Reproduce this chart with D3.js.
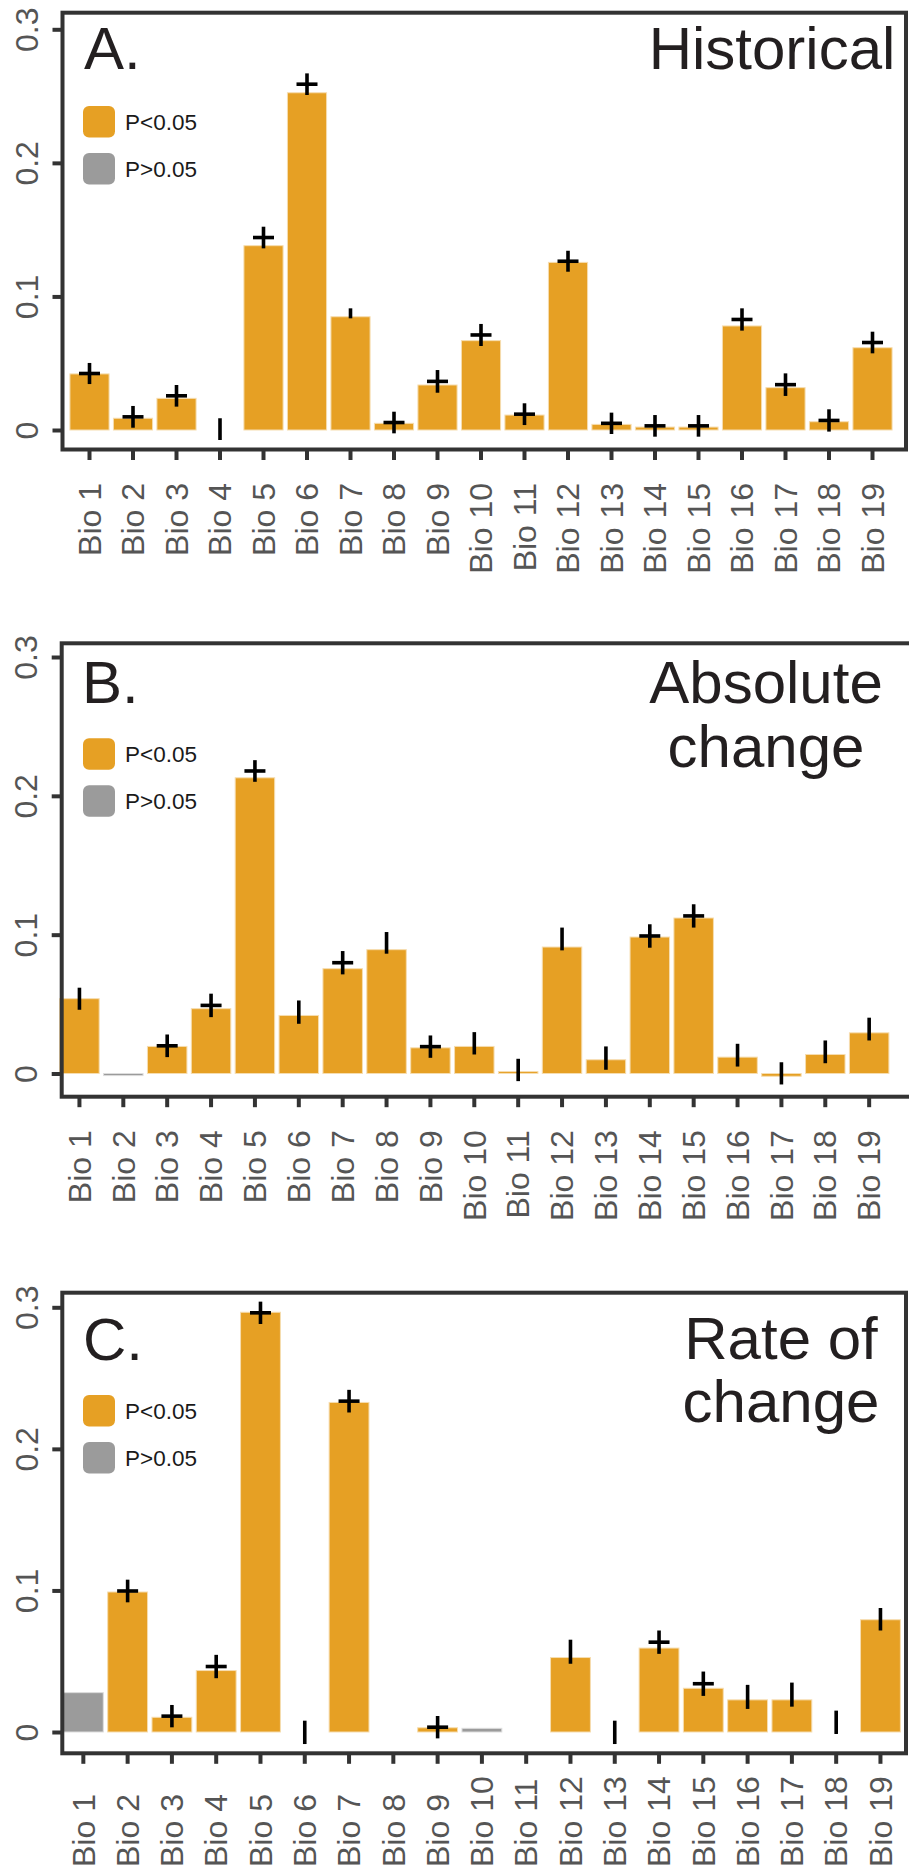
<!DOCTYPE html>
<html>
<head>
<meta charset="utf-8">
<script src="https://cdn.jsdelivr.net/npm/d3@7"></script>
<style>
  body { margin: 0; background: #fff; }
  svg { display: block; font-family: 'Liberation Sans', Arial, Helvetica, sans-serif; }
</style>
</head>
<body>
<div id="chart"></div>
<script>
// categories and ticks
const bioLabels = ['Bio 1', 'Bio 2', 'Bio 3', 'Bio 4', 'Bio 5', 'Bio 6', 'Bio 7', 'Bio 8', 'Bio 9', 'Bio 10',
    'Bio 11', 'Bio 12', 'Bio 13', 'Bio 14', 'Bio 15', 'Bio 16', 'Bio 17', 'Bio 18', 'Bio 19'];
const yTicks = [0, 0.1, 0.2, 0.3];
const yTickLabels = ['0', '0.1', '0.2', '0.3'];
const legendLabels = ['P<0.05', 'P>0.05'];

// A. Historical
const histValue = [0.042, 0.0088, 0.0237, 0, 0.138, 0.2525, 0.0848, 0.005, 0.0337, 0.0669,
    0.0112, 0.1255, 0.0042, 0.0022, 0.0022, 0.0779, 0.0317, 0.0062, 0.0616];
const histLo = [0.0344, 0.0017, 0.0175, -0.0075, 0.136, 0.2508, 0.0836, -0.0025, 0.0279, 0.0629,
    0.0037, 0.1185, -0.003, -0.005, -0.005, 0.0744, 0.0255, -0.0012, 0.0574];
const histHi = [0.0502, 0.018, 0.0337, 0.0088, 0.1522, 0.267, 0.0911, 0.0137, 0.0449, 0.0794,
    0.02, 0.1342, 0.013, 0.0112, 0.0112, 0.0911, 0.0424, 0.0155, 0.0736];
const histPlus = [1, 1, 1, 0, 1, 1, 0, 1, 1, 1, 1, 1, 1, 1, 1, 1, 1, 1, 1];
const histSig = [1, 1, 1, 1, 1, 1, 1, 1, 1, 1, 1, 1, 1, 1, 1, 1, 1, 1, 1];

// B. Absolute change
const absValue = [0.0539, -0.0015, 0.0195, 0.0467, 0.213, 0.0418, 0.0755, 0.0892, 0.0185, 0.0195,
    0.0014, 0.0911, 0.0099, 0.0983, 0.112, 0.0118, -0.002, 0.0137, 0.0293];
const absLo = [0.0459, null, 0.0118, 0.0406, 0.2101, 0.0358, 0.0714, 0.0863, 0.0113, 0.0137,
    -0.0055, 0.0887, 0.0027, 0.0906, 0.1051, 0.005, -0.0079, 0.0074, 0.0238];
const absHi = [0.0618, null, 0.0281, 0.0575, 0.2257, 0.0526, 0.0882, 0.1019, 0.0274, 0.0298,
    0.0106, 0.1051, 0.0195, 0.1075, 0.1219, 0.0214, 0.0081, 0.0238, 0.0402];
const absPlus = [0, 0, 1, 1, 1, 0, 1, 0, 1, 0, 0, 0, 0, 1, 1, 0, 0, 0, 0];
const absSig = [1, 0, 1, 1, 1, 1, 1, 1, 1, 1, 1, 1, 1, 1, 1, 1, 1, 1, 1];

// C. Rate of change
const rateValue = [0.0278, 0.0989, 0.0104, 0.0434, 0.2965, 0, 0.2328, 0, 0.003, 0.0026,
    0, 0.0526, 0, 0.0593, 0.0309, 0.0227, 0.0227, 0, 0.0793];
const rateLo = [null, 0.0916, 0.0033, 0.038, 0.2882, -0.0085, 0.2257, null, -0.0045, null,
    null, 0.0482, -0.0085, 0.0552, 0.0255, 0.0163, 0.0179, -0.0014, 0.0717];
const rateHi = [null, 0.1076, 0.0191, 0.0545, 0.304, 0.008, 0.2417, null, 0.0113, null,
    null, 0.0652, 0.008, 0.0717, 0.0427, 0.0333, 0.0349, 0.0151, 0.0876];
const ratePlus = [0, 1, 1, 1, 1, 0, 1, 0, 1, 0, 0, 0, 0, 1, 1, 0, 0, 0, 0];
const rateSig = [0, 1, 1, 1, 1, 1, 1, 1, 1, 0, 1, 1, 1, 1, 1, 1, 1, 1, 1];

const orange = '#E6A024';
const grey = '#9B9B9B';
const tickGrey = '#555555';

const panels = [
    {
        letter: 'A.', title: ['Historical'],
        value: histValue, lo: histLo, hi: histHi, plus: histPlus, sig: histSig,
        frame: {left: 62.5, top: 12.7, right: 906, bottom: 449.5},
        xRange: [67.75, 894.25], y0: 430, y3: 29.3,
        labelAnchor: 'end', labelOffset: 33.5,
        letterX: 84, letterY: 69.3, titleX: 772, titleY: 69.3, titleGap: 64,
        legendTop: 106
    },
    {
        letter: 'B.', title: ['Absolute', 'change'],
        value: absValue, lo: absLo, hi: absHi, plus: absPlus, sig: absSig,
        frame: {left: 61.7, top: 643.3, right: 916, bottom: 1096.7},
        xRange: [57.5, 891.1], y0: 1073.5, y3: 657,
        labelAnchor: 'end', labelOffset: 33.5,
        letterX: 82, letterY: 703.3, titleX: 766, titleY: 702.7, titleGap: 64,
        legendTop: 738.3
    },
    {
        letter: 'C.', title: ['Rate of', 'change'],
        value: rateValue, lo: rateLo, hi: rateHi, plus: ratePlus, sig: rateSig,
        frame: {left: 62.3, top: 1292.7, right: 906, bottom: 1753.3},
        xRange: [61.2, 902.6], y0: 1732, y3: 1307.3,
        labelAnchor: 'start', labelOffset: 113.7,
        letterX: 83, letterY: 1360, titleX: 781, titleY: 1359.3, titleGap: 62.4,
        legendTop: 1395
    }
];

const svg = d3.select('#chart')
    .append('svg')
    .attr('width', 909)
    .attr('height', 1873);

svg.append('rect')
    .attr('width', 909)
    .attr('height', 1873)
    .attr('fill', '#fff');

panels.forEach(p => {
    const g = svg.append('g');
    const rows = bioLabels.map((b, i) => ({
        bio: b, value: p.value[i], lo: p.lo[i], hi: p.hi[i], plus: p.plus[i], sig: p.sig[i]
    }));

    const x = d3.scaleBand()
        .domain(bioLabels)
        .range(p.xRange)
        .paddingInner(0.1)
        .paddingOuter(0.05);

    const y = d3.scaleLinear()
        .domain([0, 0.3])
        .range([p.y0, p.y3]);

    // bars
    g.selectAll('rect.bar')
        .data(rows)
        .enter()
        .append('rect')
        .attr('class', 'bar')
        .attr('x', d => x(d.bio))
        .attr('y', d => Math.min(y(d.value), y(0)))
        .attr('width', x.bandwidth())
        .attr('height', d => Math.abs(y(d.value) - y(0)))
        .attr('fill', d => d.sig ? orange : grey)
        .attr('stroke', d => d.sig ? '#F6DDB0' : '#DDDDDD')
        .attr('stroke-width', 1);

    // vertical marks
    const marked = rows.filter(d => d.lo !== null);
    g.selectAll('line.err')
        .data(marked)
        .enter()
        .append('line')
        .attr('class', 'err')
        .attr('x1', d => x(d.bio) + x.bandwidth() / 2)
        .attr('x2', d => x(d.bio) + x.bandwidth() / 2)
        .attr('y1', d => y(d.lo))
        .attr('y2', d => y(d.hi))
        .attr('stroke', '#000')
        .attr('stroke-width', 3.6);

    // horizontal arm of the + marks
    g.selectAll('line.arm')
        .data(marked.filter(d => d.plus))
        .enter()
        .append('line')
        .attr('class', 'arm')
        .attr('x1', d => x(d.bio) + x.bandwidth() / 2 - 10.5)
        .attr('x2', d => x(d.bio) + x.bandwidth() / 2 + 10.5)
        .attr('y1', d => y((d.lo + d.hi) / 2))
        .attr('y2', d => y((d.lo + d.hi) / 2))
        .attr('stroke', '#000')
        .attr('stroke-width', 3.6);

    // frame
    g.append('rect')
        .attr('x', p.frame.left)
        .attr('y', p.frame.top)
        .attr('width', p.frame.right - p.frame.left)
        .attr('height', p.frame.bottom - p.frame.top)
        .attr('fill', 'none')
        .attr('stroke', '#333')
        .attr('stroke-width', 4);

    // y axis
    const yAxis = g.append('g')
        .attr('transform', `translate(${p.frame.left},0)`)
        .call(d3.axisLeft(y)
            .tickValues(yTicks)
            .tickFormat((d, i) => yTickLabels[i])
            .tickSizeInner(10)
            .tickSizeOuter(0));
    yAxis.select('.domain').remove();
    yAxis.selectAll('line').attr('stroke', '#333').attr('stroke-width', 4);
    yAxis.selectAll('text')
        .attr('transform', 'rotate(-90)')
        .attr('x', 0)
        .attr('y', -36)
        .attr('dy', '0.35em')
        .attr('text-anchor', 'middle')
        .attr('fill', tickGrey)
        .attr('font-size', 32)
        .attr('font-family', "'Liberation Sans', Arial, sans-serif");

    // x axis
    const xAxis = g.append('g')
        .attr('transform', `translate(0,${p.frame.bottom})`)
        .call(d3.axisBottom(x)
            .tickSizeInner(10.5)
            .tickSizeOuter(0));
    xAxis.select('.domain').remove();
    xAxis.selectAll('line').attr('stroke', '#333').attr('stroke-width', 4);
    xAxis.selectAll('text')
        .attr('transform', 'rotate(-90)')
        .attr('x', -p.labelOffset)
        .attr('y', 0)
        .attr('dy', '0.35em')
        .attr('text-anchor', p.labelAnchor)
        .attr('fill', tickGrey)
        .attr('font-size', 32)
        .attr('font-family', "'Liberation Sans', Arial, sans-serif");

    // panel letter
    g.append('text')
        .attr('x', p.letterX)
        .attr('y', p.letterY)
        .attr('font-size', 60)
        .attr('fill', '#231F20')
        .text(p.letter);

    // title
    g.selectAll('text.title')
        .data(p.title)
        .enter()
        .append('text')
        .attr('class', 'title')
        .attr('x', p.titleX)
        .attr('y', (d, i) => p.titleY + i * p.titleGap)
        .attr('text-anchor', 'middle')
        .attr('font-size', 60)
        .attr('fill', '#231F20')
        .text(d => d);

    // legend
    const legend = g.selectAll('g.legend')
        .data(legendLabels)
        .enter()
        .append('g')
        .attr('class', 'legend')
        .attr('transform', (d, i) => `translate(83,${p.legendTop + i * 47})`);
    legend.append('rect')
        .attr('width', 32)
        .attr('height', 31.5)
        .attr('rx', 6)
        .attr('fill', (d, i) => i === 0 ? orange : grey);
    legend.append('text')
        .attr('x', 42)
        .attr('y', 23.5)
        .attr('font-size', 22.5)
        .attr('fill', '#1a1a1a')
        .text(d => d);
});
</script>
</body>
</html>
